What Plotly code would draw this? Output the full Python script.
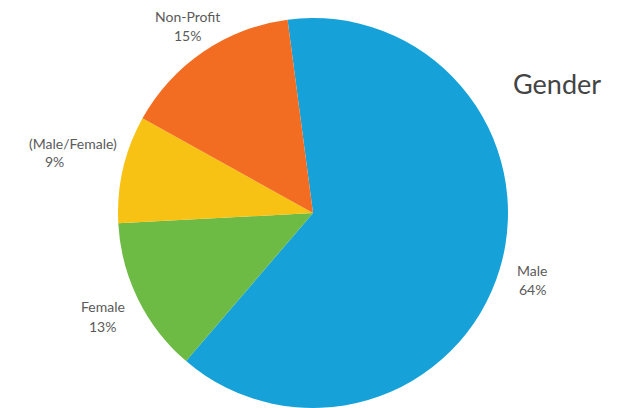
import plotly.graph_objects as go

# Gender breakdown
labels = ["Male", "Female", "(Male/Female)", "Non-Profit"]
values = [64, 13, 9, 15]
colors = ["#16A2D8", "#6DBA45", "#F7C214", "#F26D21"]

W, H = 643, 408

fig = go.Figure(
    go.Pie(
        labels=labels,
        values=values,
        sort=False,
        direction="clockwise",
        rotation=-7.5,
        marker=dict(colors=colors, line=dict(width=0)),
        textinfo="none",
        hoverinfo="label+value",
        showlegend=False,
        domain=dict(x=[118 / W, 508 / W], y=[0, 1 - 18 / H]),
    )
)

# Outside slice labels (name + percentage), placed in pixel coordinates
label_font = dict(family="Lato, 'Open Sans', sans-serif", size=14, color="#5a5a5a")
positions = {
    "Male": [(532, 270, "name"), (532, 289, "pct")],
    "Female": [(103, 306, "name"), (102, 326, "pct")],
    "(Male/Female)": [(73, 143, "name"), (55, 162, "pct")],
    "Non-Profit": [(187, 17, "name"), (187, 35, "pct")],
}
annotations = []
for lab, val in zip(labels, values):
    for px, py, kind in positions[lab]:
        annotations.append(
            dict(
                x=px / W,
                y=1 - py / H,
                xref="paper",
                yref="paper",
                text=lab if kind == "name" else f"{val}%",
                showarrow=False,
                xanchor="center",
                yanchor="middle",
                font=label_font,
            )
        )

annotations.append(
    dict(
        x=511 / W,
        y=1 - 84 / H,
        xref="paper",
        yref="paper",
        text="Gender",
        showarrow=False,
        xanchor="left",
        yanchor="middle",
        font=dict(family="Lato, 'Open Sans', sans-serif", size=27, color="#444444"),
    )
)

fig.update_layout(
    width=W,
    height=H,
    margin=dict(l=0, r=0, t=0, b=0),
    paper_bgcolor="white",
    plot_bgcolor="white",
    annotations=annotations,
)

fig.write_html("out.html")
